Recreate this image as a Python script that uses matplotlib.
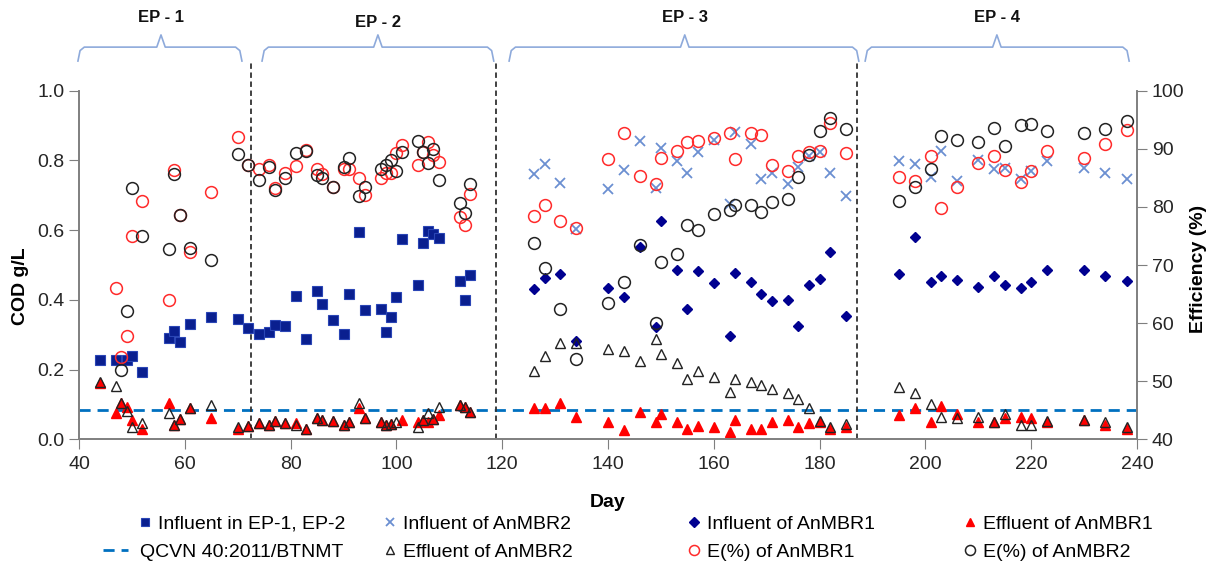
import numpy as np
import matplotlib.pyplot as plt
from matplotlib.legend_handler import HandlerLine2D

plt.rcParams['font.family'] = ['Liberation Sans', 'DejaVu Sans']

# ---- data ----
# EP-1 / EP-2 influent (g/L)
sq_day = [44, 47, 49, 50, 52, 57, 58, 59, 61, 65, 70, 72, 74, 76, 77, 79, 81, 83, 85, 86,
          88, 90, 91, 93, 94, 97, 98, 99, 100, 101, 104, 105, 106, 107, 108, 112, 113, 114]
sq_cod = [0.228, 0.227, 0.227, 0.239, 0.193, 0.290, 0.312, 0.280, 0.330, 0.350, 0.346, 0.318,
          0.302, 0.307, 0.328, 0.325, 0.411, 0.287, 0.425, 0.387, 0.342, 0.301, 0.417, 0.596,
          0.371, 0.375, 0.309, 0.352, 0.407, 0.574, 0.443, 0.564, 0.598, 0.588, 0.577, 0.455,
          0.400, 0.471]

# EP-1 / EP-2 efficiencies (%)
e1_day12 = [47, 48, 49, 50, 52, 57, 58, 59, 61, 65, 70, 72, 74, 76, 77, 79, 81, 83, 85, 86,
            88, 90, 91, 93, 94, 97, 98, 99, 100, 101, 104, 105, 106, 107, 108, 112, 113, 114]
e1_12 = [66.0, 54.1, 57.8, 75.0, 81.0, 64.0, 86.3, 78.6, 72.2, 82.5, 92.0, 87.2, 86.5, 87.2,
         83.2, 85.9, 87.0, 89.8, 86.5, 85.6, 83.5, 86.5, 86.5, 84.9, 82.0, 84.9, 85.8, 85.8,
         89.2, 90.7, 87.2, 89.5, 91.1, 88.9, 87.8, 78.2, 76.9, 82.3]
e2_day12 = [48, 49, 50, 52, 57, 58, 59, 61, 65, 70, 72, 74, 76, 77, 79, 81, 83, 85, 86, 88,
            90, 91, 93, 94, 97, 98, 99, 100, 101, 104, 105, 106, 107, 108, 112, 113, 114]
e2_12 = [52.0, 62.1, 83.2, 75.0, 72.8, 85.6, 78.6, 72.9, 70.9, 89.1, 87.2, 84.6, 86.8, 82.9,
         85.0, 89.3, 89.7, 85.5, 84.9, 83.5, 86.8, 88.4, 81.9, 83.5, 86.5, 87.2, 88.1, 86.1,
         89.5, 91.4, 89.5, 87.6, 89.9, 84.6, 80.6, 78.9, 83.9]

# EP-1 / EP-2 effluents (g/L)
f1_day12 = [44, 47, 48, 49, 50, 52, 57, 58, 59, 61, 65, 70, 72, 74, 76, 77, 79, 81, 83, 85,
            86, 88, 90, 91, 93, 94, 97, 98, 99, 101, 104, 105, 106, 107, 108, 112, 113, 114]
f1_12 = [0.162, 0.075, 0.105, 0.093, 0.055, 0.031, 0.103, 0.041, 0.057, 0.089, 0.060, 0.029,
         0.038, 0.046, 0.041, 0.052, 0.048, 0.048, 0.029, 0.060, 0.055, 0.052, 0.041, 0.050,
         0.089, 0.062, 0.050, 0.041, 0.043, 0.055, 0.050, 0.055, 0.050, 0.057, 0.070, 0.098,
         0.092, 0.079]
f2_day12 = [44, 47, 48, 49, 50, 52, 57, 58, 59, 61, 65, 70, 72, 74, 76, 77, 79, 81, 83, 85,
            86, 88, 90, 91, 93, 94, 97, 98, 99, 100, 104, 105, 106, 107, 108, 112, 113, 114]
f2_12 = [0.165, 0.153, 0.105, 0.081, 0.036, 0.046, 0.075, 0.041, 0.057, 0.089, 0.098, 0.036,
         0.038, 0.046, 0.041, 0.052, 0.048, 0.041, 0.029, 0.060, 0.055, 0.052, 0.041, 0.050,
         0.105, 0.062, 0.050, 0.041, 0.043, 0.050, 0.036, 0.055, 0.075, 0.057, 0.094, 0.098,
         0.092, 0.079]

# EP-3 / EP-4 (all series share the sampling days)
d34 = [126, 128, 131, 134, 140, 143, 146, 149, 150, 153, 155, 157, 160, 163, 164, 167, 169,
       171, 174, 176, 178, 180, 182, 185,
       195, 198, 201, 203, 206, 210, 213, 215, 218, 220, 223, 230, 234, 238]
inf2 = [0.760, 0.790, 0.736, 0.602, 0.718, 0.772, 0.856, 0.720, 0.835, 0.798, 0.763, 0.825,
        0.858, 0.675, 0.882, 0.846, 0.747, 0.763, 0.732, 0.780, 0.813, 0.825, 0.765, 0.699,
        0.799, 0.790, 0.753, 0.827, 0.741, 0.801, 0.775, 0.779, 0.747, 0.771, 0.799, 0.779,
        0.763, 0.747]
inf1 = [0.430, 0.462, 0.474, 0.283, 0.433, 0.409, 0.553, 0.323, 0.627, 0.486, 0.374, 0.483,
        0.449, 0.296, 0.476, 0.452, 0.417, 0.397, 0.401, 0.325, 0.444, 0.460, 0.536, 0.355,
        0.473, 0.579, 0.452, 0.469, 0.457, 0.436, 0.469, 0.444, 0.435, 0.452, 0.485, 0.485,
        0.468, 0.455]
eff1 = [0.091, 0.089, 0.105, 0.065, 0.051, 0.027, 0.079, 0.051, 0.072, 0.051, 0.031, 0.039,
        0.036, 0.022, 0.055, 0.031, 0.031, 0.051, 0.055, 0.036, 0.048, 0.051, 0.031, 0.036,
        0.070, 0.089, 0.051, 0.096, 0.072, 0.051, 0.049, 0.060, 0.065, 0.060, 0.051, 0.055,
        0.041, 0.031]
eff2 = [0.196, 0.239, 0.275, 0.275, 0.258, 0.253, 0.225, 0.287, 0.245, 0.220, 0.173, 0.196,
        0.178, 0.135, 0.172, 0.164, 0.156, 0.143, 0.134, 0.115, 0.089, 0.053, 0.036, 0.044,
        0.151, 0.132, 0.101, 0.063, 0.060, 0.065, 0.049, 0.073, 0.041, 0.041, 0.053, 0.055,
        0.049, 0.036]
e1_34 = [78.4, 80.4, 77.6, 76.4, 88.2, 92.7, 85.4, 83.9, 88.5, 89.6, 91.2, 91.4, 91.9, 92.8,
         88.2, 92.7, 92.4, 87.2, 86.2, 88.7, 89.5, 89.7, 94.4, 89.3,
         85.1, 84.5, 88.8, 79.8, 83.5, 87.6, 88.8, 86.3, 84.3, 86.2, 89.6, 88.5, 90.8, 93.2]
e2_34 = [73.8, 69.5, 62.4, 53.8, 63.5, 67.0, 73.5, 60.1, 70.5, 71.9, 76.9, 76.0, 78.7, 79.4,
         80.3, 80.4, 79.1, 80.8, 81.4, 85.2, 89.0, 93.1, 95.3, 93.4,
         81.1, 83.5, 86.6, 92.2, 91.5, 91.1, 93.6, 90.4, 94.1, 94.2, 93.1, 92.8, 93.4, 94.8]

qcvn = 0.085
period_bounds = [72.6, 118.8, 187]
periods = ['EP - 1', 'EP - 2', 'EP - 3', 'EP - 4']
brace_spans = [(39.8, 70.8), (74.6, 118.4), (121.3, 187.4), (188.6, 238.5)]
brace_tips = [55.5, 96.5, 154.5, 213.5]

# ---- figure ----
W, H = 1219, 587
fig = plt.figure(figsize=(W / 100, H / 100), dpi=100)
ax = fig.add_axes([0.0648, 0.2516, 0.868, 0.5939])
ax2 = ax.twinx()

grey = '#7f7f7f'
h_qcvn = ax.axhline(qcvn, color='#0070c0', lw=2, ls=(0, (4, 2.5)), zorder=1)
for b in period_bounds:
    ax.axvline(b, ymin=0, ymax=1.082, color='#333333', lw=1.3, ls=(0, (3, 2)), clip_on=False)

h_sq, = ax.plot(sq_day, sq_cod, 's', ms=7.3, color='#0a1f8f', mec='#2a45b5', mew=0.8)
h_x, = ax.plot(d34, inf2, 'x', ms=7.5, mew=1.3, color='#6b8fd1')
h_d, = ax.plot(d34, inf1, 'D', ms=5.5, color='#000090')
h_f1, = ax.plot(f1_day12 + d34, f1_12 + eff1, '^', ms=7, color='#ff0000')
h_f2, = ax.plot(f2_day12 + d34, f2_12 + eff2, '^', ms=7, mfc='none', mec='#222222', mew=1)
h_e1, = ax2.plot(e1_day12 + d34, e1_12 + e1_34, 'o', ms=8.5, mfc='none', mec='#ff2a2a', mew=1.1)
h_e2, = ax2.plot(e2_day12 + d34, e2_12 + e2_34, 'o', ms=8.5, mfc='none', mec='#222222', mew=1.1)

ax.set_xlim(40, 240)
ax.set_ylim(0, 1.0)
ax2.set_ylim(40, 100)
ax.set_xticks(np.arange(40, 241, 20))
ax.set_yticks(np.arange(0, 1.01, 0.2))
ax.set_yticklabels(['%.1f' % v for v in np.arange(0, 1.01, 0.2)])
ax2.set_yticks(np.arange(40, 101, 10))

for a in (ax, ax2):
    a.spines['top'].set_visible(False)
    for s in ('left', 'right', 'bottom'):
        a.spines[s].set_color(grey)
        a.spines[s].set_linewidth(1.2)
    a.tick_params(direction='out', length=7, color=grey, labelsize=14, labelcolor='#262626')
ax.tick_params(axis='x', pad=5)

ax.set_xlabel('Day', fontsize=14, fontweight='bold', labelpad=15)
ax.set_ylabel('COD g/L', fontsize=14, fontweight='bold')
ax.yaxis.set_label_coords(-0.047, 0.44)
ax2.set_ylabel('Efficiency (%)', fontsize=14, fontweight='bold')
ax2.yaxis.set_label_coords(1.050, 0.49)

# period braces above the plot
tr = ax.get_xaxis_transform()
y_end, y_line, y_tip = 1.085, 1.125, 1.16
for (x0, x1), xm in zip(brace_spans, brace_tips):
    bx = [x0, x0 + 0.4, x0 + 1.2, xm - 0.8, xm, xm + 0.8, x1 - 1.2, x1 - 0.4, x1]
    by = [y_end, y_line - 0.01, y_line, y_line, y_tip, y_line, y_line, y_line - 0.01, y_end]
    ax.plot(bx, by, color='#8eaadb', lw=1.2, transform=tr, clip_on=False)
for name, xm, yt in zip(periods, brace_tips, [1.209, 1.195, 1.209, 1.209]):
    ax.text(xm, yt, name, transform=tr, ha='center', va='center',
            fontsize=12, fontweight='bold', color='#111111')

# legend: one entry per slot so each text starts where it does in the original
entries = [(h_sq, 'Influent in EP-1, EP-2', 158, 524),
           (h_x, 'Influent of AnMBR2', 403, 524),
           (h_d, 'Influent of AnMBR1', 707, 524),
           (h_f1, 'Effluent of AnMBR1', 983, 524),
           (h_qcvn, 'QCVN 40:2011/BTNMT', 140, 552),
           (h_f2, 'Effluent of AnMBR2', 403, 552),
           (h_e1, 'E(%) of AnMBR1', 707, 552),
           (h_e2, 'E(%) of AnMBR2', 983, 552)]
fs_px = 14 * 100 / 72
for h, lab, tx, ty in entries:
    hl = 1.9 if h is h_qcvn else 0.75
    left = tx - (hl + 0.3) * fs_px
    fig.legend([h], [lab], loc='center left', bbox_to_anchor=(left / W, 1 - ty / H),
               frameon=False, fontsize=14, handlelength=hl, handletextpad=0.3,
               borderpad=0, borderaxespad=0, markerscale=0.85,
               handler_map={h_qcvn: HandlerLine2D(numpoints=2)})

fig.savefig('out.png', dpi=100)
